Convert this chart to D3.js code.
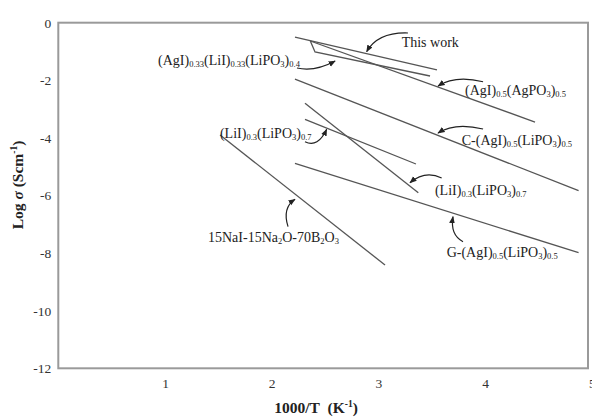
<!DOCTYPE html>
<html><head><meta charset="utf-8">
<script src="https://cdn.jsdelivr.net/npm/d3@7"></script>
<style>
html,body{margin:0;padding:0;background:#fff;}
svg{display:block;font-family:"Liberation Serif","Times New Roman",serif;}
</style></head>
<body><svg id="chart" width="592" height="417"></svg>
<script>
// ---- data (x = 1000/T, y = log sigma) ----
const thisWork   = [[2.218,-0.497],[3.549,-1.642]];
const agiAgpo3   = [[2.362,-0.635],[4.468,-3.45]];
const agiLiiLipo = [[2.362,-0.635],[2.406,-1.017],[3.484,-1.851]];
const cAgiLipo   = [[2.218,-1.958],[4.876,-5.833]];
const liiLipoA   = [[2.312,-2.799],[3.374,-5.903]];
const liiLipoB   = [[2.312,-3.354],[3.352,-4.906]];
const gAgiLipo   = [[2.218,-4.882],[4.876,-7.986]];
const naiNa2o    = [[1.516,-3.899],[3.062,-8.413]];
const seriesList = [thisWork, agiAgpo3, agiLiiLipo, cAgiLipo, liiLipoA, liiLipoB, gAgiLipo, naiNa2o];

const xTicks = [1,2,3,4,5];
const yTicks = [0,-2,-4,-6,-8,-10,-12];

// labels: text parts [text, isSubscript], anchor (data), arrow from / ctrl / to (data)
const labelParts = [
  [["This work",0]],
  [["(AgI)",0],["0.33",1],["(LiI)",0],["0.33",1],["(LiPO",0],["3",1],[")",0],["0.4",1]],
  [["(AgI)",0],["0.5",1],["(AgPO",0],["3",1],[")",0],["0.5",1]],
  [["C-(AgI)",0],["0.5",1],["(LiPO",0],["3",1],[")",0],["0.5",1]],
  [["(LiI)",0],["0.3",1],["(LiPO",0],["3",1],[")",0],["0.7",1]],
  [["(LiI)",0],["0.3",1],["(LiPO",0],["3",1],[")",0],["0.7",1]],
  [["15NaI-15Na",0],["2",1],["O-70B",0],["2",1],["O",0],["3",1]],
  [["G-(AgI)",0],["0.5",1],["(LiPO",0],["3",1],[")",0],["0.5",1]]
];
const labelAt = [[3.218,-0.844],[0.935,-1.469],[3.812,-2.51],[3.781,-4.247],[3.530,-5.983],[1.515,-4.003],[1.403,-7.604],[3.640,-8.125]];
const arrowFrom = [[3.277,-0.358],[2.237,-1.573],[3.981,-2.049],[3.981,-3.691],[3.593,-5.392],[2.312,-4.132],[2.153,-7.083],[3.793,-7.604]];
const arrowCtrl = [[2.996,-0.323],[2.406,-1.712],[3.718,-1.816],[3.718,-3.448],[3.437,-5.115],[2.434,-4.351],[2.097,-6.434],[3.671,-7.372]];
const arrowTo   = [[2.890,-1.007],[2.594,-1.330],[3.559,-2.198],[3.559,-3.830],[3.296,-5.556],[2.515,-3.701],[2.218,-6.132],[3.699,-6.736]];

// ---- drawing ----
const svg = d3.select("#chart");
const x = d3.scaleLinear().domain([0,5]).range([58.3,591.8]);
const y = d3.scaleLinear().domain([-12,0]).range([368.3,22.7]);
const frameRight = 588;

svg.append("defs").append("marker")
  .attr("id","ah").attr("viewBox","0 0 10 10").attr("refX",9).attr("refY",5)
  .attr("markerWidth",6).attr("markerHeight",6).attr("orient","auto")
  .append("path").attr("d","M0,1 L10,5 L0,9 Z").attr("fill","#222");

// frame
svg.append("rect").attr("x",x(0)).attr("y",y(0))
  .attr("width",frameRight-x(0)).attr("height",y(-12)-y(0))
  .attr("fill","none").attr("stroke","#9a9a9a").attr("stroke-width",2);

// axes
const xa = svg.append("g").attr("transform",`translate(0,${y(-12)})`)
  .call(d3.axisBottom(x).tickValues(xTicks).tickSize(0).tickPadding(10).tickFormat(d3.format("d")));
const ya = svg.append("g").attr("transform",`translate(${x(0)},0)`)
  .call(d3.axisLeft(y).tickValues(yTicks).tickSize(0).tickPadding(7).tickFormat(d=>d===0?"0":String(d).replace("−","-")));
[xa,ya].forEach(g=>{
  g.select(".domain").remove();
  g.selectAll("text").attr("font-family","Liberation Serif, serif").attr("font-size",13.5).attr("fill","#333");
});

// series lines
const line = d3.line().x(d=>x(d[0])).y(d=>y(d[1]));
svg.append("g").selectAll("path").data(seriesList).join("path")
  .attr("d",line).attr("fill","none").attr("stroke","#555").attr("stroke-width",1.3);

// annotation arrows
svg.append("g").selectAll("path").data(arrowFrom).join("path")
  .attr("d",(d,i)=>`M${x(d[0])},${y(d[1])} Q${x(arrowCtrl[i][0])},${y(arrowCtrl[i][1])} ${x(arrowTo[i][0])},${y(arrowTo[i][1])}`)
  .attr("fill","none").attr("stroke","#222").attr("stroke-width",1.2).attr("marker-end","url(#ah)");

// labels
const lg = svg.append("g");
labelParts.forEach((parts,i)=>{
  const t = lg.append("text").attr("x",x(labelAt[i][0])).attr("y",y(labelAt[i][1]))
    .attr("font-size",14).attr("fill","#222");
  let prevSub = 0;
  parts.forEach(([s,sub])=>{
    const ts = t.append("tspan").text(s);
    if(sub){ ts.attr("font-size",8.5); if(!prevSub) ts.attr("dy",2); }
    else if(prevSub){ ts.attr("dy",-2); }
    prevSub = sub;
  });
});

// axis titles
const yt = svg.append("text").attr("transform",`translate(23,185) rotate(-90)`)
  .attr("text-anchor","middle").attr("font-size",15.5).attr("font-weight","bold").attr("fill","#222");
yt.append("tspan").text("Log ");
yt.append("tspan").text("σ").attr("font-style","italic");
yt.append("tspan").text("\u00a0(Scm");
yt.append("tspan").text("-1").attr("font-size",9.5).attr("dy",-6);
yt.append("tspan").text(")").attr("dy",6);

const xt = svg.append("text").attr("x",316).attr("y",413)
  .attr("text-anchor","middle").attr("font-size",15.5).attr("font-weight","bold").attr("fill","#222");
xt.append("tspan").text("1000/T\u00a0\u00a0(K");
xt.append("tspan").text("-1").attr("font-size",9.5).attr("dy",-6);
xt.append("tspan").text(")").attr("dy",6);
</script></body></html>
